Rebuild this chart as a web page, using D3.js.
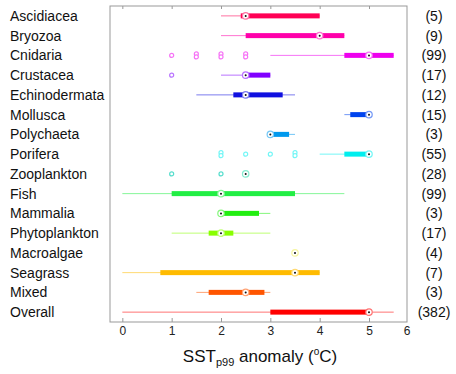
<!DOCTYPE html>
<html>
<head>
<meta charset="utf-8">
<script src="https://cdn.jsdelivr.net/npm/d3@7"></script>
<style>
  body { margin: 0; background: #fff; }
  svg { font-family: "Liberation Sans", Arial, sans-serif; }
</style>
</head>
<body>
<div id="chart"></div>
<script>
const categories = ["Ascidiacea", "Bryozoa", "Cnidaria", "Crustacea", "Echinodermata", "Mollusca",
  "Polychaeta", "Porifera", "Zooplankton", "Fish", "Mammalia", "Phytoplankton", "Macroalgae",
  "Seagrass", "Mixed", "Overall"];
const counts = [5, 9, 99, 17, 12, 15, 3, 55, 28, 99, 3, 17, 4, 7, 3, 382];
const whiskerLo = [2, 2, 3, 2, 1.5, 4.5, 3, 4, 2.5, 0, 2, 1, 3.5, 0, 1.5, 0];
const q1 = [2.4, 2.5, 4.5, 2.5, 2.25, 4.62, 3, 4.5, 2.5, 1, 2, 1.75, 3.5, 0.77, 1.75, 3];
const medians = [2.5, 4, 5, 2.5, 2.5, 5, 3, 5, 2.5, 2, 2, 2, 3.5, 3.5, 2.5, 5];
const q3 = [4, 4.5, 5.5, 3, 3.25, 5, 3.38, 5, 2.5, 3.5, 2.77, 2.25, 3.5, 4, 2.88, 5];
const whiskerHi = [4, 4.5, 5.5, 3, 3.5, 5, 3.5, 5, 2.5, 4.5, 3, 3, 3.5, 4, 3, 5.5];
const outliers = [[], [], [1, 1.5, 1.5, 2, 2, 2.5, 2.5], [1], [], [], [], [2, 2, 2.5, 3, 3.5, 3.5],
  [1, 2], [], [], [], [], [], [], []];
const colors = ["#ff0055", "#ff00aa", "#ee00ee", "#8000ff", "#1010e0", "#0044ee", "#0099ee", "#00eeee",
  "#22ddaa", "#22ee44", "#22ee11", "#88ff00", "#eeee55", "#ffbb00", "#ff5500", "#ff0000"];
const tickValues = [0, 1, 2, 3, 4, 5];

const width = 456, height = 374;
const plot = { left: 110, right: 407, top: 6, bottom: 322 };

const svg = d3.select("#chart").append("svg")
  .attr("width", width)
  .attr("height", height);

const x = d3.scaleLinear().domain([-0.25, 5.77]).range([plot.left, plot.right]);
const y = d3.scalePoint().domain(categories).range([plot.top, plot.bottom]).padding(0.5);

const light = (c) => d3.interpolateRgb(c, "#fff")(0.45);

// frame
svg.append("rect")
  .attr("x", plot.left).attr("y", plot.top)
  .attr("width", plot.right - plot.left).attr("height", plot.bottom - plot.top)
  .attr("fill", "none").attr("stroke", "#999").attr("stroke-width", 1);

// ticks on top and bottom
const xAxis = d3.axisBottom(x).tickValues(tickValues).tickSize(-4).tickPadding(4.5).tickFormat(d3.format("d"));
const gx = svg.append("g").attr("transform", `translate(0,${plot.bottom})`).call(xAxis);
gx.select(".domain").remove();
gx.selectAll("line").attr("stroke", "#999");
gx.selectAll("text").attr("font-size", 12).attr("fill", "#222");
// last label sits on the right edge
gx.append("text").attr("x", plot.right).attr("y", 4.5).attr("dy", "0.71em")
  .attr("text-anchor", "middle").attr("font-size", 12).attr("fill", "#222").text("6");

const gxTop = svg.append("g").attr("transform", `translate(0,${plot.top})`)
  .call(d3.axisTop(x).tickValues(tickValues).tickSize(-3).tickFormat(""));
gxTop.select(".domain").remove();
gxTop.selectAll("line").attr("stroke", "#999");

// category labels and counts
svg.append("g").selectAll("text").data(categories).join("text")
  .attr("x", 10).attr("y", (d) => y(d)).attr("dy", "0.36em")
  .attr("font-size", 14).attr("fill", "#111").text((d) => d);

svg.append("g").selectAll("text").data(counts).join("text")
  .attr("x", 434).attr("y", (d, i) => y(categories[i])).attr("dy", "0.36em")
  .attr("text-anchor", "middle").attr("font-size", 14).attr("fill", "#111")
  .text((d) => `(${d})`);

const rows = categories.map((c, i) => ({
  cat: c, lo: whiskerLo[i], q1: q1[i], med: medians[i], q3: q3[i], hi: whiskerHi[i],
  out: outliers[i], color: colors[i]
}));

const g = svg.append("g");
const row = g.selectAll("g.row").data(rows).join("g").attr("class", "row")
  .attr("transform", (d) => `translate(0,${y(d.cat)})`);

// whiskers
row.filter((d) => d.hi > d.lo).append("line")
  .attr("x1", (d) => x(d.lo)).attr("x2", (d) => x(d.hi))
  .attr("stroke", (d) => light(d.color)).attr("stroke-width", 1);

// boxes
row.filter((d) => d.q3 > d.q1).append("rect")
  .attr("x", (d) => x(d.q1)).attr("width", (d) => x(d.q3) - x(d.q1))
  .attr("y", -2.5).attr("height", 5)
  .attr("fill", (d) => d.color);

// outliers, repeated values stacked
row.each(function (d) {
  const seen = {};
  d3.select(this).selectAll("circle.out").data(d.out).join("circle")
    .attr("class", "out")
    .attr("cx", (v) => x(v))
    .attr("cy", (v) => {
      seen[v] = (seen[v] || 0) + 1;
      const n = d.out.filter((o) => o === v).length;
      return n > 1 ? (seen[v] === 1 ? -1.5 : 1.5) : 0;
    })
    .attr("r", 2)
    .attr("fill", "#fff")
    .attr("stroke", d.color === "#22ddaa" ? "#55ddcc" : light(d.color))
    .attr("stroke-width", 1.2);
});

// medians
row.append("circle")
  .attr("cx", (d) => x(d.med)).attr("r", 3.2)
  .attr("fill", "#fff").attr("stroke", (d) => light(d.color)).attr("stroke-width", 1.2);
row.append("circle")
  .attr("cx", (d) => x(d.med)).attr("r", 1)
  .attr("fill", "#111");

// axis title
const title = svg.append("text")
  .attr("x", 260).attr("y", 362).attr("text-anchor", "middle")
  .attr("font-size", 17).attr("fill", "#111");
title.append("tspan").text("SST");
title.append("tspan").attr("font-size", 11).attr("dy", 4).text("p99");
title.append("tspan").attr("dy", -4).text(" anomaly (");
title.append("tspan").attr("font-size", 10).attr("dy", -7).text("o");
title.append("tspan").attr("dy", 7).text("C)");
</script>
</body>
</html>
